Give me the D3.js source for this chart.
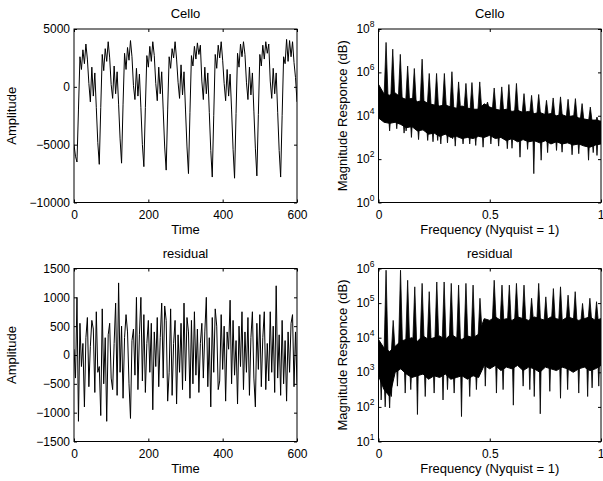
<!DOCTYPE html>
<html>
<head>
<meta charset="utf-8">
<script src="https://cdn.jsdelivr.net/npm/d3@7"></script>
<style>
  body { margin: 0; background: #fff; }
  text { font-family: "Liberation Sans", Arial, Helvetica, sans-serif; fill: #000; }
</style>
</head>
<body>
<div id="viz"></div>
<script>
// ---- data ----

// time-domain signals, one value every 4 samples (t = 0, 4, ..., 600)
const timeStep = 4;

const cello = [
  -5000, -6000,
  -6500, -2000, 2600, 1500, 3200, 2000, 3700, 2400, 300, -1300, 1700, -800, 1200, -1800, -4800,
  -6700, -1800, 2800, 1400, 3300, 2200, 3900, 2500, 200, -1000, 1800, -600, 1300, -1500, -4500,
  -6600, -1500, 2900, 1500, 3400, 2300, 4000, 2600, 100, -1100, 1600, -800, 1100, -1800, -5000,
  -6900, -1800, 2700, 1700, 3500, 2200, 3900, 2700, 300, -1200, 1700, -600, 1300, -2000, -5200,
  -7200, -2000, 2600, 1600, 3300, 2500, 3900, 2400, 400, -1000, 1900, -700, 1300, -2000, -5200,
  -7500, -2200, 2700, 1800, 3500, 2400, 3800, 2800, 3600, 500, -1100, 1700, -600, 1200, -2200, -5500,
  -7800, -2500, 2800, 1600, 3600, 2500, 3900, 2300, 300, -1200, 1500, -800, 1100, -2000, -5400,
  -7900, -2300, 2900, 1700, 3700, 2600, 3900, 2800, 400, -1100, 1700, -700, 1200, -2100, -5300,
  -7700, -2400, 2800, 1800, 3600, 2400, 3900, 2900, 3700, 500, -1000, 1600, -600, 1200, -2200, -5500,
  -7800, -2500, 2600, 2000, 4100, 2200, 4000, 2600, 3900, 2100, 800, -1300
];

const residual = [
  100, -400, 1000, -1150, 550, -200, 200, -900, 300, 650,
  -550, 150, 600, 450, -650, 750, -300, -200, -1050, 800,
  -500, 300, -1150, 350, 550, -400, -600, 200, 900, -700,
  1250, -300, 500, -750, 300, 700, 400, -500, -1100, 250,
  450, -350, 1000, -600, 350, 1000, -450, 700, -650, 200,
  600, -300, 550, -950, 400, -200, 650, -550, 300, 900,
  -400, 850, 600, -800, -300, 800, -700, 200, 600, -850,
  350, -300, 550, -600, 900, -450, 650, 400, -750, 600,
  -500, 750, -350, 450, -650, 200, 550, -400, 400, 1000,
  -550, 300, -900, 650, -300, 800, 500, -600, -450, 700,
  -250, 500, -800, 400, 100, 950, -500, 600, -350, 250,
  -850, 500, -200, 750, -600, 400, -300, 650, -700, 300,
  750, -400, -900, 550, -250, 700, -550, 300, 750, -600,
  200, -450, 750, -300, 500, -650, 1200, -400, 350, -700,
  600, -500, 250, -800, 400, -300, 550, 700, -550, 400,
  -500
];

// spectra: band of the noisy floor (log10 of magnitude) on a frequency grid
const envFreq = [
  0, 0.025, 0.05, 0.075, 0.1, 0.125, 0.15, 0.175, 0.2, 0.225,
  0.25, 0.275, 0.3, 0.325, 0.35, 0.375, 0.4, 0.425, 0.45, 0.475,
  0.5, 0.525, 0.55, 0.575, 0.6, 0.625, 0.65, 0.675, 0.7, 0.725,
  0.75, 0.775, 0.8, 0.825, 0.85, 0.875, 0.9, 0.925, 0.95, 0.975, 1
];

const celloTopLog = [
  5.45, 5.0, 4.95, 5.05, 4.85, 4.75, 4.8, 4.65, 4.7, 4.55,
  4.5, 4.45, 4.5, 4.4, 4.35, 4.45, 4.35, 4.3, 4.3, 4.55,
  4.4, 4.3, 4.25, 4.3, 4.2, 4.25, 4.15, 4.2, 4.1, 4.15,
  4.05, 4.1, 4.0, 4.05, 3.95, 4.0, 3.9, 3.85, 3.8, 3.8, 3.75
];
const celloBottomLog = [
  3.9, 3.7, 3.65, 3.7, 3.6, 3.45, 3.5, 3.3, 3.35, 3.15,
  3.2, 3.05, 3.15, 3.0, 3.05, 2.95, 3.0, 2.95, 3.05, 3.0,
  3.1, 2.95, 3.0, 2.85, 2.95, 2.8, 2.9, 2.8, 2.85, 2.75,
  2.85, 2.7, 2.8, 2.7, 2.75, 2.65, 2.7, 2.6, 2.55, 2.65, 2.7
];
// harmonic peaks [frequency, log10 magnitude]
const celloPeaks = [
  [0.034, 7.38], [0.064, 7.07], [0.098, 6.83], [0.131, 6.29], [0.161, 6.18],
  [0.196, 6.61], [0.228, 5.95], [0.261, 5.95], [0.296, 5.95], [0.33, 6.03],
  [0.36, 5.56], [0.393, 5.49], [0.42, 5.53], [0.455, 5.56], [0.49, 4.63],
  [0.52, 5.28], [0.554, 5.33], [0.586, 5.44], [0.62, 5.49], [0.654, 5.02],
  [0.688, 4.94], [0.72, 4.98], [0.755, 4.71], [0.785, 4.82], [0.818, 4.87],
  [0.852, 4.76], [0.885, 4.79], [0.915, 4.56], [0.952, 4.4], [0.982, 3.94]
];
// notches below the floor [frequency, log10 magnitude]
const celloDips = [
  [0.05, 3.3], [0.082, 3.4], [0.115, 3.2], [0.124, 3.3], [0.148, 3.0],
  [0.18, 2.9], [0.221, 2.86], [0.245, 2.8], [0.266, 2.86], [0.28, 2.7],
  [0.31, 2.75], [0.333, 2.94], [0.345, 2.6], [0.38, 2.7], [0.41, 2.7],
  [0.437, 2.63], [0.47, 2.55], [0.505, 2.7], [0.54, 2.6], [0.579, 2.48],
  [0.6, 2.5], [0.636, 2.09], [0.67, 2.45], [0.698, 1.33], [0.731, 1.95],
  [0.76, 2.3], [0.8, 2.4], [0.825, 2.32], [0.87, 2.2], [0.9, 2.25],
  [0.944, 1.95], [0.965, 2.3], [0.982, 2.17]
];

const residTopLog = [
  3.95, 3.7, 3.6, 3.75, 3.9, 3.95, 4.0, 3.9, 4.05, 3.95,
  4.0, 4.05, 3.95, 4.1, 4.0, 3.95, 4.05, 4.0, 4.1, 4.55,
  4.5, 4.6, 4.5, 4.55, 4.5, 4.6, 4.55, 4.5, 4.6, 4.55,
  4.5, 4.6, 4.55, 4.5, 4.6, 4.55, 4.5, 4.55, 4.6, 4.5, 4.55
];
const residBottomLog = [
  2.9, 2.5, 2.3, 3.0, 3.1, 2.95, 2.85, 2.9, 2.95, 2.8,
  2.9, 2.85, 2.95, 2.8, 2.85, 2.9, 2.8, 2.9, 2.85, 3.2,
  3.1, 3.2, 3.05, 3.15, 3.1, 3.2, 3.05, 3.15, 3.1, 3.0,
  3.15, 3.1, 3.05, 3.15, 3.1, 3.0, 3.1, 3.15, 3.05, 3.1, 3.2
];
const residPeaks = [
  [0.034, 5.95], [0.066, 4.5], [0.099, 5.95], [0.131, 5.66], [0.163, 5.47],
  [0.196, 5.57], [0.228, 5.33], [0.262, 5.61], [0.295, 5.61], [0.327, 5.57],
  [0.36, 5.52], [0.393, 5.57], [0.425, 5.52], [0.456, 5.14], [0.49, 4.1],
  [0.52, 5.66], [0.555, 5.52], [0.588, 5.52], [0.62, 5.57], [0.654, 5.52],
  [0.688, 5.14], [0.72, 5.57], [0.752, 5.18], [0.786, 5.42], [0.818, 5.47],
  [0.852, 5.23], [0.884, 5.33], [0.917, 4.99], [0.95, 5.14], [0.98, 5.04]
];
const residDips = [
  [0.012, 2.2], [0.03, 2.0], [0.05, 1.97], [0.058, 2.3], [0.085, 2.6],
  [0.12, 2.4], [0.145, 2.5], [0.175, 1.78], [0.21, 2.3], [0.25, 2.4],
  [0.29, 2.2], [0.31, 2.5], [0.34, 2.4], [0.373, 1.72], [0.41, 2.3],
  [0.44, 2.5], [0.48, 2.6], [0.53, 2.4], [0.56, 2.5], [0.606, 2.05],
  [0.65, 2.6], [0.68, 2.5], [0.7, 2.3], [0.727, 1.8], [0.77, 2.45],
  [0.818, 2.25], [0.85, 2.5], [0.9, 2.4], [0.94, 2.3], [0.96, 2.55], [0.99, 2.6]
];

// axis ticks
const timeTicks = [0, 200, 400, 600];
const celloTicks = [-10000, -5000, 0, 5000];
const residTicks = [-1500, -1000, -500, 0, 500, 1000, 1500];
const freqTicks = [0, 0.5, 1];
const freqTickLabels = ["0", "0.5", "1"];
const celloSpecExp = [0, 2, 4, 6, 8];
const residSpecExp = [1, 2, 3, 4, 5, 6];

// ---- layout ----
const width = 603, height = 481;
const cols = [[74, 297], [378.5, 601]];
const rows = [[29, 202.5], [268.5, 441.5]];
const tickFont = 12, labelFont = 13, tickLen = 3;

const svg = d3.select("#viz").append("svg")
    .attr("width", width)
    .attr("height", height);

let clipId = 0;

function panel(col, row, xDomain, yScale, xTicks, xLabels, yTicks, yLabelFn, title, xTitle, yTitle, yTitleX) {
    const [x0, x1] = cols[col];
    const [y0, y1] = rows[row];
    const x = d3.scaleLinear().domain(xDomain).range([x0, x1]);
    const y = yScale.range([y1, y0]);

    const g = svg.append("g");

    // inward ticks on all four sides
    const xb = g.append("g").attr("transform", `translate(0,${y1})`)
        .call(d3.axisBottom(x).tickValues(xTicks).tickSize(-tickLen).tickPadding(8)
            .tickFormat((d, i) => xLabels[i]));
    const xt = g.append("g").attr("transform", `translate(0,${y0})`)
        .call(d3.axisTop(x).tickValues(xTicks).tickSize(-tickLen).tickFormat(""));
    const yl = g.append("g").attr("transform", `translate(${x0},0)`)
        .call(d3.axisLeft(y).tickValues(yTicks).tickSize(-tickLen).tickPadding(4)
            .tickFormat(yLabelFn ? "" : d3.format("")));
    const yr = g.append("g").attr("transform", `translate(${x1},0)`)
        .call(d3.axisRight(y).tickValues(yTicks).tickSize(-tickLen).tickFormat(""));

    [xb, xt, yl, yr].forEach(a => {
        a.select(".domain").remove();
        a.selectAll(".tick line").attr("stroke", "#000");
        a.selectAll("text").attr("font-size", tickFont).attr("font-family", null).attr("fill", "#000");
    });
    // keep the last label on the right edge inside the window
    xb.selectAll(".tick text").filter(d => d === xDomain[1] && x1 > 590).attr("text-anchor", "end").attr("dx", 3);

    if (yLabelFn) {
        yTicks.forEach(v => yLabelFn(g, x0 - 4, y(v), v));
    }

    // frame
    g.append("rect")
        .attr("x", x0).attr("y", y0)
        .attr("width", x1 - x0).attr("height", y1 - y0)
        .attr("fill", "none").attr("stroke", "#000").attr("stroke-width", 1);

    g.append("text")
        .attr("x", (x0 + x1) / 2).attr("y", y0 - 11)
        .attr("text-anchor", "middle").attr("font-size", labelFont)
        .text(title);
    g.append("text")
        .attr("x", (x0 + x1) / 2).attr("y", y1 + 31.5)
        .attr("text-anchor", "middle").attr("font-size", labelFont)
        .text(xTitle);
    g.append("text")
        .attr("transform", `translate(${yTitleX},${(y0 + y1) / 2}) rotate(-90)`)
        .attr("text-anchor", "middle").attr("font-size", labelFont)
        .text(yTitle);

    const id = "clip" + (clipId++);
    svg.append("clipPath").attr("id", id)
        .append("rect").attr("x", x0).attr("y", y0).attr("width", x1 - x0).attr("height", y1 - y0);
    const plot = svg.append("g").attr("clip-path", `url(#${id})`);

    return { x, y, plot };
}

function powerLabel(g, xr, yv, e) {
    const t = g.append("text")
        .attr("x", xr).attr("y", yv + 4)
        .attr("text-anchor", "end").attr("font-size", tickFont);
    t.append("tspan").text("10");
    t.append("tspan").attr("dy", -6).attr("font-size", 8.5).text(e);
}

function drawSignal(p, values) {
    p.plot.append("path")
        .datum(values)
        .attr("fill", "none")
        .attr("stroke", "#000")
        .attr("stroke-width", 1)
        .attr("stroke-linejoin", "round")
        .attr("d", d3.line().x((d, i) => p.x(i * timeStep)).y(d => p.y(d)));
}

function drawSpectrum(p, topLog, bottomLog, peaks, dips) {
    const topAt = d3.scaleLinear().domain(envFreq).range(topLog);
    const botAt = d3.scaleLinear().domain(envFreq).range(bottomLog);
    const ly = e => p.y(Math.pow(10, e));

    p.plot.append("path")
        .datum(envFreq)
        .attr("fill", "#000")
        .attr("stroke", "#000")
        .attr("stroke-width", 1)
        .attr("d", d3.area()
            .x(d => p.x(d))
            .y0((d, i) => ly(bottomLog[i]))
            .y1((d, i) => ly(topLog[i])));

    const tri = d3.line().x(d => p.x(d[0])).y(d => ly(d[1]));
    const w = 0.009;

    p.plot.selectAll(".peak")
        .data(peaks)
        .join("path")
            .attr("class", "peak")
            .attr("fill", "#000")
            .attr("stroke", "#000")
            .attr("stroke-width", 0.8)
            .attr("d", d => tri([[d[0] - w, topAt(d[0] - w) - 0.15], d, [d[0] + w, topAt(d[0] + w) - 0.15]]) + "Z");

    p.plot.selectAll(".dip")
        .data(dips)
        .join("path")
            .attr("class", "dip")
            .attr("fill", "#000")
            .attr("stroke", "#000")
            .attr("stroke-width", 0.8)
            .attr("d", d => tri([[d[0] - 0.004, botAt(d[0] - 0.004) + 0.2], d, [d[0] + 0.004, botAt(d[0] + 0.004) + 0.2]]) + "Z");
}

// top-left: cello waveform
const p1 = panel(0, 0, [0, 600], d3.scaleLinear().domain([-10000, 5000]),
    timeTicks, timeTicks.map(String), celloTicks, null,
    "Cello", "Time", "Amplitude", 15.5);
drawSignal(p1, cello);

// top-right: cello spectrum
const p2 = panel(1, 0, [0, 1], d3.scaleLog().domain([1, 1e8]),
    freqTicks, freqTickLabels, celloSpecExp.map(e => Math.pow(10, e)),
    (g, xr, yv, v) => powerLabel(g, xr, yv, Math.round(Math.log10(v))),
    "Cello", "Frequency (Nyquist = 1)", "Magnitude Responce (dB)", 347);
drawSpectrum(p2, celloTopLog, celloBottomLog, celloPeaks, celloDips);

// bottom-left: residual waveform
const p3 = panel(0, 1, [0, 600], d3.scaleLinear().domain([-1500, 1500]),
    timeTicks, timeTicks.map(String), residTicks, null,
    "residual", "Time", "Amplitude", 15.5);
drawSignal(p3, residual);

// bottom-right: residual spectrum
const p4 = panel(1, 1, [0, 1], d3.scaleLog().domain([10, 1e6]),
    freqTicks, freqTickLabels, residSpecExp.map(e => Math.pow(10, e)),
    (g, xr, yv, v) => powerLabel(g, xr, yv, Math.round(Math.log10(v))),
    "residual", "Frequency (Nyquist = 1)", "Magnitude Responce (dB)", 347);
drawSpectrum(p4, residTopLog, residBottomLog, residPeaks, residDips);
</script>
</body>
</html>
